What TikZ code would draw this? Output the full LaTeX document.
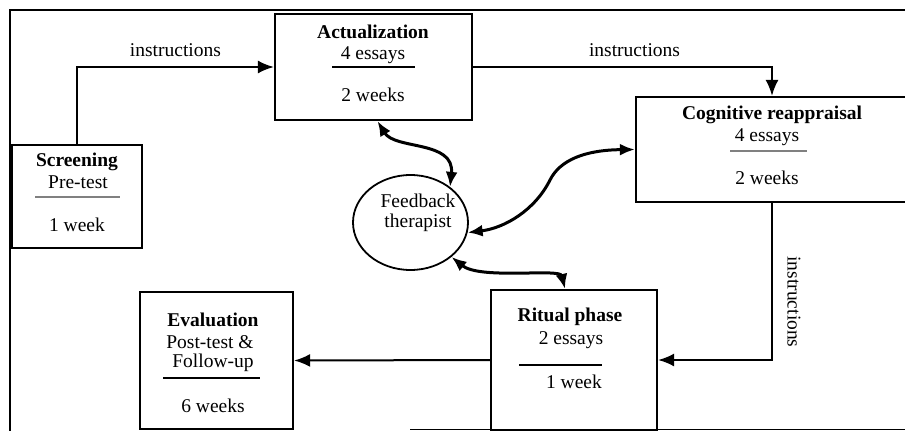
\documentclass[tikz,border=0pt]{standalone}
\usepackage{fontspec}
\setmainfont{Liberation Serif}
\usetikzlibrary{arrows.meta,shapes.geometric}

\begin{document}
\begin{tikzpicture}[
    x=1pt, y=-1pt,
    font=\fontsize{19.5}{23}\selectfont,
    phase/.style={draw, line width=2.2pt, inner sep=0pt},
    label/.style={inner sep=1pt},
    sep/.style={line width=2pt},
    faint/.style={line width=1.2pt, gray},
    flow/.style={-{Latex[length=16pt,width=13pt]}, line width=2pt},
    feedback/.style={{Latex[length=15pt,width=12pt]}-{Latex[length=15pt,width=12pt]}, line width=3pt}
  ]

  \useasboundingbox (0,0) rectangle (905,431);
  \clip (0,0) rectangle (905,431);

  % Outer frame
  \draw[line width=2pt] (10,431) -- (10,10) -- (905,10);
  \draw[line width=1.4pt] (410,429.5) -- (905,429.5);

  % Phases
  \node[phase, minimum width=130, minimum height=103] (scr) at (77,196.5) {};
  \node[phase, minimum width=197, minimum height=106] (act) at (373.5,67) {};
  \node[phase, minimum width=294, minimum height=105] (cog) at (783,149.5) {};
  \node[phase, minimum width=166, minimum height=140] (rit) at (574,360) {};
  \node[phase, minimum width=153, minimum height=137] (eva) at (216.5,360.5) {};
  \node[draw, ellipse, line width=1.8pt, minimum width=115, minimum height=95] (fb) at (410.5,222.5) {};

  % Screening
  \node[label] (scrA) at (77,162) {\textbf{Screening}};
  \node[label] (scrB) at (78,182) {Pre-test};
  \draw[faint] (35,197) -- (120,197);
  \node[label] (scrC) at (77,225) {1 week};

  % Actualization
  \node[label] (actA) at (373,32) {\textbf{Actualization}};
  \node[label] (actB) at (373,55) {4 essays};
  \draw[sep] (332,67) -- (415,67);
  \node[label] (actC) at (373,95) {2 weeks};

  % Cognitive reappraisal
  \node[label] (cogA) at (772,115) {\textbf{Cognitive reappraisal}};
  \node[label] (cogB) at (767,137) {4 essays};
  \draw[faint] (730,151) -- (807,151);
  \node[label] (cogC) at (767,178) {2 weeks};

  % Ritual phase
  \node[label] (ritA) at (570,317) {\textbf{Ritual phase}};
  \node[label] (ritB) at (571,340) {2 essays};
  \draw[sep] (519,365) -- (602,365);
  \node[label] (ritC) at (574,382) {1 week};

  % Evaluation
  \node[label] (evaA) at (213,320) {\textbf{Evaluation}};
  \node[label] (evaB) at (210,342) {Post-test \&};
  \node[label] (evaC) at (213,363) {Follow-up};
  \draw[sep] (163,378) -- (260,378);
  \node[label] (evaD) at (213,406) {6 weeks};

  % Feedback
  \node[label, align=center, font=\fontsize{19.5}{20}\selectfont] (fbA) at (418,213) {Feedback\\therapist};

  % Instructions
  \draw[flow] (scr.north) |- (act.west) node[pos=0.75, above=6pt] (ins1) {instructions};
  \draw[flow] (act.east) -| ([xshift=-11]cog.north) node[pos=0.27, above=6pt] (ins2) {instructions};
  \draw[flow] ([xshift=-11]cog.south) |- (rit.east);
  \node[rotate=-90] (ins3) at (794,302) {instructions};
  \draw[flow] (rit.west) -- (eva.east);

  % Feedback loops
  \draw[feedback] ([xshift=4]act.south) .. controls (395,150) and (455,140) .. (fb.42);
  \draw[feedback] (cog.west) .. controls (585,150) and (560,160) .. (550,180)
    .. controls (535,210) and (505,228) .. (fb.-10);
  \draw[feedback] (fb.-40) .. controls (480,280) and (560,268) .. ([xshift=-9]rit.north);
\end{tikzpicture}
\end{document}
